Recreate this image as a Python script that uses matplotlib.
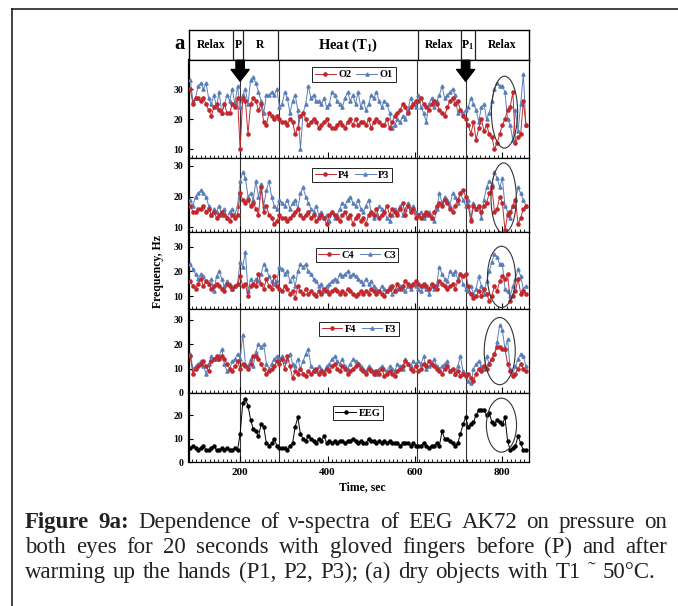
import numpy as np
import matplotlib
matplotlib.use('Agg')
import matplotlib.pyplot as plt
from matplotlib.patches import Ellipse
from matplotlib.ticker import MultipleLocator, FixedLocator
from matplotlib.lines import Line2D

plt.rcParams['mathtext.fontset'] = 'custom'
plt.rcParams['mathtext.rm'] = 'Liberation Serif:bold'
plt.rcParams['mathtext.it'] = 'Liberation Serif:bold'
plt.rcParams['mathtext.bf'] = 'Liberation Serif:bold'

# ============================================================
# data, segments: relax | P,R | heat | relax | P1,relax
# ============================================================
O2 = [30, 25, 27, 27, 26, 27, 25, 23, 21, 24, 25, 23, 22, 25, 22, 22, 25, 24, 27,
      10, 27, 26, 15, 25, 27, 26, 23, 25, 19, 18, 22, 21, 20, 21,
      20, 19, 19, 18, 20, 19, 15, 17, 21, 22, 20, 18, 19, 20, 19, 17, 18, 19, 20, 18,
      17, 17, 18, 19, 18, 17, 19, 20, 18, 20, 18, 19, 19, 18, 20, 17, 19, 20, 19, 18,
      18, 20, 17, 19, 21, 22, 23, 25, 24, 22, 24, 25, 26,
      26, 27, 25, 24, 23, 25, 26, 25, 23, 22, 21, 24, 26, 27, 25, 26, 23, 21,
      20, 18, 15, 19, 13, 17, 20, 16, 18, 15, 14, 10, 12, 15, 18, 20, 23, 24, 29, 12,
      14, 15, 26, 18]
O1 = [33, 26, 27, 31, 32, 30, 32, 27, 25, 28, 24, 29, 22, 25, 28, 26, 30, 25, 31,
      24, 28, 30, 25, 33, 34, 32, 29, 26, 22, 28, 28, 29, 28, 30,
      24, 25, 29, 27, 22, 26, 28, 23, 10, 22, 25, 31, 27, 28, 26, 26, 25, 27, 24, 25,
      29, 28, 26, 25, 24, 27, 29, 26, 28, 25, 29, 24, 26, 23, 25, 28, 27, 29, 26, 24,
      26, 25, 22, 17, 18, 20, 19, 21, 20, 23, 27, 25, 24,
      28, 24, 22, 19, 25, 27, 24, 26, 28, 31, 27, 28, 29, 30, 28, 22, 23, 22,
      23, 24, 27, 25, 23, 19, 24, 25, 20, 22, 26, 30, 32, 31, 31, 29, 20, 18, 13, 23,
      16, 25, 35, 18]

P4 = [17, 15, 15, 16, 16, 17, 15, 16, 14, 15, 13, 14, 15, 14, 13, 12, 14, 13, 14,
      21, 19, 18, 19, 17, 18, 16, 14, 23, 15, 17, 14, 13, 11, 12,
      14, 13, 13, 12, 13, 14, 15, 16, 14, 13, 14, 15, 13, 14, 12, 13, 14, 13, 11, 14,
      15, 14, 13, 12, 14, 15, 13, 14, 11, 13, 14, 12, 13, 11, 14, 15, 14, 16, 13, 14,
      15, 17, 14, 16, 15, 14, 16, 18, 14, 17, 15, 16, 13,
      14, 13, 14, 15, 14, 13, 15, 17, 18, 17, 19, 18, 16, 15, 17, 19, 21, 22,
      20, 17, 12, 17, 16, 17, 15, 17, 18, 21, 23, 15, 16, 20, 18, 9, 14, 15, 17, 19,
      11, 13, 16, 17]
P3 = [19, 17, 20, 21, 22, 21, 20, 17, 14, 16, 15, 17, 14, 16, 13, 15, 16, 14, 17,
      25, 28, 26, 20, 21, 19, 25, 20, 24, 17, 22, 25, 20, 17, 16,
      19, 18, 17, 19, 16, 18, 19, 16, 21, 23, 20, 18, 16, 15, 17, 14, 15, 13, 14, 12,
      15, 13, 14, 16, 18, 17, 19, 20, 18, 17, 19, 16, 15, 17, 19, 15, 13, 14, 17, 16,
      15, 13, 12, 14, 16, 15, 17, 14, 16, 18, 16, 17, 15,
      14, 15, 13, 14, 15, 13, 12, 16, 21, 18, 20, 19, 17, 21, 20, 18, 21, 19,
      17, 19, 13, 18, 16, 17, 13, 19, 23, 25, 24, 28, 26, 23, 26, 17, 15, 13, 17, 19,
      23, 21, 19, 17]

C4 = [16, 14, 13, 15, 17, 14, 16, 15, 13, 14, 15, 14, 13, 12, 15, 14, 13, 14, 15,
      18, 14, 15, 10, 14, 15, 14, 19, 15, 13, 17, 14, 13, 18, 14,
      13, 12, 14, 13, 11, 12, 9, 14, 12, 11, 13, 11, 12, 11, 10, 12, 11, 13, 12, 11,
      12, 13, 12, 11, 12, 11, 13, 12, 11, 10, 11, 12, 11, 12, 11, 13, 12, 11, 12, 11,
      10, 12, 13, 14, 12, 15, 13, 14, 16, 15, 14, 15, 16,
      15, 14, 15, 14, 13, 15, 14, 13, 16, 15, 14, 13, 14, 15, 13, 16, 19, 18,
      19, 14, 11, 9, 10, 12, 10, 13, 11, 8, 10, 14, 12, 16, 18, 17, 19, 8, 10, 12,
      17, 11, 12, 11]
C3 = [23, 21, 19, 17, 19, 18, 16, 15, 17, 12, 18, 20, 17, 14, 16, 15, 13, 14, 15,
      24, 22, 28, 12, 17, 15, 17, 16, 19, 23, 21, 18, 16, 15, 16,
      22, 21, 19, 20, 16, 18, 14, 20, 23, 22, 23, 20, 19, 17, 16, 14, 15, 12, 14, 15,
      16, 17, 16, 19, 18, 19, 20, 18, 19, 18, 17, 16, 15, 17, 15, 16, 14, 13, 12, 14,
      13, 12, 14, 11, 12, 13, 14, 13, 12, 14, 13, 15, 14,
      13, 12, 14, 13, 11, 14, 13, 15, 22, 19, 17, 16, 20, 19, 20, 17, 19, 15,
      13, 12, 14, 11, 13, 18, 14, 11, 16, 20, 24, 27, 26, 23, 23, 13, 12, 10, 14, 17,
      21, 18, 13, 14]

F4 = [15, 8, 10, 11, 12, 13, 11, 9, 13, 14, 15, 14, 15, 14, 12, 10, 9, 11, 13,
      10, 12, 11, 10, 12, 15, 15, 14, 12, 10, 8, 9, 10, 11, 13,
      12, 14, 10, 15, 11, 6, 9, 8, 10, 8, 7, 9, 8, 9, 10, 8, 9, 8, 10, 9,
      11, 12, 10, 9, 11, 10, 8, 9, 10, 11, 12, 10, 9, 8, 10, 9, 8, 9, 8, 10,
      7, 8, 9, 8, 7, 9, 10, 11, 13, 12, 10, 9, 11,
      9, 10, 12, 11, 13, 12, 11, 10, 9, 8, 10, 11, 9, 10, 8, 9, 7, 8,
      7, 8, 6, 5, 8, 10, 9, 11, 10, 12, 14, 16, 19, 19, 18, 18, 12, 9, 7, 8,
      10, 12, 10, 9]
F3 = [16, 10, 11, 12, 13, 11, 8, 12, 15, 14, 14, 15, 18, 12, 9, 10, 13, 14, 16,
      14, 24, 12, 11, 14, 11, 17, 20, 19, 20, 12, 10, 12, 14, 15,
      14, 15, 13, 14, 16, 12, 11, 14, 10, 13, 16, 18, 11, 10, 9, 11, 10, 9, 11, 12,
      14, 15, 13, 12, 14, 11, 10, 12, 14, 13, 12, 11, 10, 9, 11, 10, 9, 8, 10, 11,
      10, 9, 11, 10, 9, 12, 11, 10, 14, 12, 11, 13, 12,
      13, 12, 15, 10, 11, 12, 14, 11, 10, 11, 12, 13, 9, 10, 8, 11, 15, 9,
      8, 5, 4, 10, 12, 13, 11, 10, 15, 12, 14, 16, 21, 28, 26, 18, 22, 10, 8, 11,
      14, 16, 15, 11]

EEG = [6, 7, 6, 5, 6, 7, 5, 5, 6, 7, 5, 5, 6, 5, 6, 5, 5, 6, 5,
       12, 25, 27, 24, 18, 14, 13, 11, 16, 15, 8, 7, 8, 10, 7,
       6, 6, 6, 5, 7, 8, 15, 19, 12, 10, 9, 11, 10, 9, 8, 10, 9, 11, 8, 9,
       8, 9, 8, 9, 9, 8, 9, 9, 10, 9, 8, 9, 8, 8, 10, 9, 9, 8, 9, 8,
       9, 8, 9, 8, 8, 8, 7, 8, 8, 8, 7, 8, 7,
       7, 7, 8, 7, 6, 7, 7, 8, 7, 13, 10, 10, 9, 8, 7, 8, 12, 16,
       19, 15, 16, 17, 20, 22, 22, 22, 20, 21, 17, 16, 18, 17, 16, 19, 9, 5, 6, 7,
       11, 8, 5, 5]

t_start, t_end = 86, 854
boundaries = [200, 290, 605, 716]            # vertical event lines, sec
header_edges = [184, 206, 286, 606, 705, 737]
header_labels = ['Relax', 'P', 'R', r'Heat (T$_{1}$)', 'Relax', r'P$_{1}$', 'Relax']
arrow_t = [200, 716]

panels = [
    (('O2', O2), ('O1', O1), (7, 39.7), [10, 20, 30], (0.485, 0.85)),
    (('P4', P4), ('P3', P3), (8.4, 32.6), [10, 20, 30], (0.48, 0.77)),
    (('C4', C4), ('C3', C3), (4.7, 36.1), [10, 20, 30], (0.494, 0.70)),
    (('F4', F4), ('F3', F3), (0, 34.5), [0, 10, 20, 30], (0.50, 0.76)),
]
ellipses = [(805, 22.3, 60, 24), (803, 19.5, 58, 23), (798, 17.8, 64, 25),
            (794, 17.2, 71, 27.6), (798, 15.7, 69, 23)]

# ============================================================
# figure, pixel layout
# ============================================================
W, H = 678, 606
fig = plt.figure(figsize=(W / 100, H / 100), dpi=100)
fig.patch.set_facecolor('white')
serif = 'Liberation Serif'
RED = '#c0282e'
BLUE = '#5a7fb8'

def px_axes(x0, y0, x1, y1):
    return fig.add_axes([x0 / W, 1 - y1 / H, (x1 - x0) / W, (y1 - y0) / H])

xlim = (83, 861)
ax_left, ax_right = 189, 529
rows = [(60, 158), (158, 232), (232, 309), (309, 393), (393, 462)]

# outer frame lines
fig.add_artist(Line2D([12 / W, 1.0], [1 - 9 / H, 1 - 9 / H], color='#222222', lw=1.2))
fig.add_artist(Line2D([12 / W, 12 / W], [0, 1 - 9 / H], color='#222222', lw=1.2))

# header row
hax = px_axes(ax_left, 30, ax_right, 60)
hax.set_xlim(*xlim)
hax.set_ylim(0, 1)
hax.set_xticks([])
hax.set_yticks([])
for s in hax.spines.values():
    s.set_linewidth(1.0)
for e in header_edges:
    hax.axvline(e, color='#222222', lw=0.9)
edges = [xlim[0]] + header_edges + [xlim[1]]
for i, lab in enumerate(header_labels):
    cx = (edges[i] + edges[i + 1]) / 2
    size = 10.5 if 'Heat' in lab else 8.5
    hax.text(cx, 0.5, lab, ha='center', va='center', fontsize=size,
             family=serif, weight='bold')
fig.text(174 / W, 1 - 44 / H, 'a', fontsize=15, family=serif, weight='bold',
         ha='left', va='center')

axes = []
for k, (y0, y1) in enumerate(rows):
    ax = px_axes(ax_left, y0, ax_right, y1)
    ax.set_xlim(*xlim)
    for s in ax.spines.values():
        s.set_linewidth(0.9)
    ax.spines['left'].set_linewidth(1.6)
    ax.xaxis.set_major_locator(MultipleLocator(200))
    ax.xaxis.set_minor_locator(MultipleLocator(10))
    ax.tick_params(axis='x', which='major', direction='in', length=4, width=0.8)
    ax.tick_params(axis='x', which='minor', direction='in', length=2.2, width=0.6)
    ax.tick_params(axis='y', direction='in', length=3, width=0.8, labelsize=7, pad=4)
    if k < 4:
        ax.tick_params(axis='x', labelbottom=False)
    for b in boundaries:
        ax.axvline(b, color='#333333', lw=0.8, zorder=1)
    axes.append(ax)

for ax, (red, blue, ylim, yt, leg_pos) in zip(axes[:4], panels):
    tr = np.linspace(t_start, t_end, len(red[1]))
    tb = np.linspace(t_start, t_end, len(blue[1]))
    ax.plot(tr, red[1], color=RED, lw=0.7, marker='o', ms=2.3, mec=RED, label=red[0], zorder=4)
    ax.plot(tb, blue[1], color=BLUE, lw=0.7, marker='^', ms=2.3, mec=BLUE, label=blue[0], zorder=3)
    ax.set_ylim(*ylim)
    ax.yaxis.set_major_locator(FixedLocator(yt))
    leg = ax.legend(ncol=2, loc='center', bbox_to_anchor=leg_pos, frameon=True,
                    fancybox=False, edgecolor='#222222', framealpha=1,
                    prop=dict(family=serif, weight='bold', size=7.5),
                    handlelength=2.0, columnspacing=0.5, handletextpad=0.25,
                    borderpad=0.25, borderaxespad=0)
    leg.get_frame().set_linewidth(0.7)
    leg.set_zorder(6)

ax5 = axes[4]
te = np.linspace(t_start, t_end, len(EEG))
ax5.plot(te, EEG, color='black', lw=0.7, marker='o', ms=2.2, label='EEG', zorder=4)
ax5.set_ylim(0, 29.4)
ax5.yaxis.set_major_locator(FixedLocator([0, 10, 20]))
leg = ax5.legend(loc='center', bbox_to_anchor=(0.497, 0.71), frameon=True, fancybox=False,
                 edgecolor='#222222', framealpha=1,
                 prop=dict(family=serif, weight='bold', size=7.5),
                 handlelength=2.0, handletextpad=0.25, borderpad=0.25, borderaxespad=0)
leg.get_frame().set_linewidth(0.7)
ax5.tick_params(axis='x', labelsize=8, pad=4)

for ax in axes:
    for lab in ax.get_xticklabels() + ax.get_yticklabels():
        lab.set_family(serif)
        lab.set_weight('bold')

for ax, (cx, cy, w, h) in zip(axes, ellipses):
    ax.add_patch(Ellipse((cx, cy), w, h, fill=False, ec='#333333', lw=0.8,
                         zorder=5, clip_on=False))

# pressure arrows on top panel
for at in arrow_t:
    axes[0].annotate('', xy=(at, 32.6), xytext=(at, 39.6),
                     arrowprops=dict(arrowstyle='simple,head_length=0.85,head_width=1.3,tail_width=0.6',
                                     fc='black', ec='black', mutation_scale=10,
                                     shrinkA=0, shrinkB=0),
                     annotation_clip=False, zorder=7)

fig.text(158 / W, 1 - 272 / H, 'Frequency, Hz', rotation=90, ha='center', va='center',
         fontsize=8.5, family=serif, weight='bold')
fig.text(362 / W, 1 - 487 / H, 'Time, sec', ha='center', va='center',
         fontsize=8.5, family=serif, weight='bold')

# ============================================================
# caption, justified by hand
# ============================================================
caption = [
    ([('Figure', 'bold'), ('9a:', 'bold')] +
     [(w, 'normal') for w in 'Dependence of \u03bd-spectra of EEG AK72 on pressure on'.split()], 667),
    ([(w, 'normal') for w in 'both eyes for 20 seconds with gloved fingers before (P) and after'.split()], 667),
    ([(w, 'normal') for w in 'warming up the hands (P1, P2, P3); (a) dry objects with T1 \u02dc 50\u00b0C.'.split()], 655),
]
base_y = [528, 553, 578]
renderer = fig.canvas.get_renderer()
for (words, x_right), by in zip(caption, base_y):
    objs, widths = [], []
    for w, wt in words:
        t = fig.text(0, 1 - by / H, w, fontsize=16.5, family=serif, weight=wt,
                     color='#222222', ha='left', va='baseline')
        objs.append(t)
        widths.append(t.get_window_extent(renderer).width)
    gap = (x_right - 25 - sum(widths)) / (len(words) - 1)
    x = 25
    for t, w in zip(objs, widths):
        t.set_x(x / W)
        x += w + gap

plt.savefig('out.png', dpi=100, facecolor='white')
